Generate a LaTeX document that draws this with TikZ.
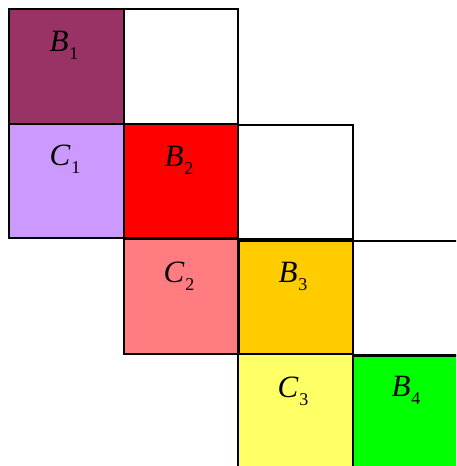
\documentclass[tikz,border=0pt]{standalone}
\usepackage{fontspec}
\setmainfont{Liberation Serif}
\definecolor{cBa}{HTML}{993366}
\definecolor{cCa}{HTML}{CC99FF}
\definecolor{cBb}{HTML}{FF0000}
\definecolor{cCb}{HTML}{FF7C80}
\definecolor{cBc}{HTML}{FFCC00}
\definecolor{cCc}{HTML}{FFFF66}
\definecolor{cBd}{HTML}{00FF00}
\newcommand{\lbl}[2]{\fontsize{31}{33}\selectfont\textit{#1}\kern1pt\raisebox{-8pt}{\fontsize{18}{20}\selectfont #2}}
\tikzset{
  cell/.style={draw=black, line width=2pt, rectangle, minimum width=114.5pt, minimum height=114.5pt, inner sep=0pt, anchor=north west},
  lab/.style={anchor=base, inner sep=0pt}
}
\begin{document}
\begin{tikzpicture}[x=1pt,y=-1pt]
\useasboundingbox (0,0) rectangle (456,466);
\clip (0,0) rectangle (456,466);
% row 0
\node[cell, fill=cBa] (b1) at (8,8) {};
\node[cell, fill=white] (w1) at (122.5,8) {};
% row 1
\node[cell, fill=cCa] (c1) at (8,122.5) {};
\node[cell, fill=cBb] (b2) at (122.5,122.5) {};
\node[cell, fill=white] (w2) at (237,123.5) {};
% row 2
\node[cell, fill=cCb] (c2) at (122.5,238) {};
\node[cell, fill=white] (w3) at (351.5,239.5) {};
\node[cell, fill=cBc] (b3) at (237.5,239.5) {};
% row 3
\node[cell, fill=cCc] (c3) at (237,353) {};
\node[cell, fill=cBd] (b4) at (351.5,354.5) {};
% labels
\node[lab] (lb1) at (64,51) {\lbl{B}{1}};
\node[lab] (lc1) at (65,165) {\lbl{C}{1}};
\node[lab] (lb2) at (179,166) {\lbl{B}{2}};
\node[lab] (lc2) at (179,282) {\lbl{C}{2}};
\node[lab] (lb3) at (293,282) {\lbl{B}{3}};
\node[lab] (lc3) at (293,397) {\lbl{C}{3}};
\node[lab] (lb4) at (406,396) {\lbl{B}{4}};
\end{tikzpicture}
\end{document}
